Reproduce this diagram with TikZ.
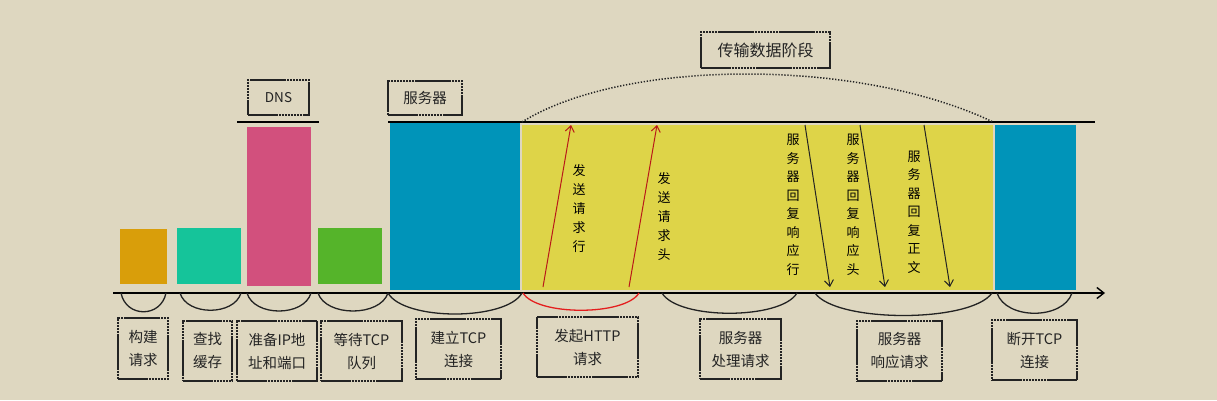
\documentclass[tikz,border=0pt]{standalone}
\usepackage{fontspec}
\newfontfamily\cjk{Noto Sans CJK SC}
\usetikzlibrary{arrows.meta}
\definecolor{bg}{RGB}{222,215,192}
\definecolor{cOrange}{RGB}{217,158,10}
\definecolor{cTeal}{RGB}{21,196,154}
\definecolor{cPink}{RGB}{210,80,125}
\definecolor{cGreen}{RGB}{85,180,42}
\definecolor{cBlue}{RGB}{0,148,185}
\definecolor{cYellow}{RGB}{222,212,72}
\definecolor{cInk}{RGB}{35,35,35}
\definecolor{cDarkRed}{RGB}{185,25,25}
\definecolor{cRed}{RGB}{228,30,30}
\begin{document}
\begin{tikzpicture}[x=1pt,y=-1pt,
  bar/.style={rectangle, inner sep=0pt, outer sep=0pt, anchor=north west},
  lbl/.style={draw=cInk, line width=1.2pt, dash pattern=on 2.6pt off 0.45pt, rectangle, inner sep=0pt,
              align=center, text=cInk, font=\cjk\fontsize{14.5}{23}\selectfont},
  vtxt/.style={align=center, text=black, inner sep=0pt, font=\cjk\fontsize{13}{18.5}\selectfont},
  brace/.style={line width=1.3pt, draw=cInk},
  upar/.style={line width=1pt, draw=cDarkRed, -{Straight Barb[length=6pt,width=9pt,line width=1pt]}},
  dnar/.style={line width=1pt, draw=cInk, -{Straight Barb[length=6pt,width=9pt,line width=1pt]}},
  rule/.style={line width=1.6pt, draw=black}
]
\useasboundingbox (0,0) rectangle (1217,400);
\fill[bg] (0,0) rectangle (1217,400);

% bars
\node[bar, fill=cOrange, minimum width=47pt, minimum height=55pt] (bOrange) at (120,229) {};
\node[bar, fill=cTeal, minimum width=64pt, minimum height=56pt] (bTeal) at (177,228) {};
\node[bar, fill=cPink, minimum width=64pt, minimum height=159pt] (bPink) at (247,127) {};
\node[bar, fill=cGreen, minimum width=64pt, minimum height=56pt] (bGreen) at (318,228) {};
\node[bar, fill=cBlue, minimum width=130pt, minimum height=167pt] (bBlue) at (390,123) {};
\node[bar, fill=cYellow, minimum width=471pt, minimum height=165pt] (bYellow) at (522,125) {};
\node[bar, fill=cBlue, minimum width=81pt, minimum height=165pt] (bBlue2) at (995,125) {};

% top rules
\coordinate (dnsL) at (237,122);
\coordinate (dnsR) at (319,122);
\coordinate (srvL) at (388,122);
\coordinate (srvR) at (1095,122);
\draw[rule] (dnsL) -- (dnsR);
\draw[rule] (srvL) -- (srvR);

% top labels
\node[lbl, font=\cjk\fontsize{13.5}{16}\selectfont, minimum width=61pt, minimum height=35pt] (dns) at (278.5,97.5) {DNS};
\node[lbl, minimum width=74pt, minimum height=34pt] (srv) at (425,98) {服务器};
\node[lbl, font=\cjk\fontsize{16}{20}\selectfont, minimum width=129pt, minimum height=36pt] (phase) at (765.5,50) {传输数据阶段};

% dotted arc
\coordinate (dotL) at (522,122);
\coordinate (dotR) at (993,122);
\draw[line width=1.5pt, dash pattern=on 1.3pt off 1.7pt, cInk] (dotL) .. controls (625,58) and (860,58) .. (dotR);

% axis
\coordinate (ax0) at (113,293);
\coordinate (ax1) at (1105,293);
\draw[line width=1.6pt, black, -{Straight Barb[length=7pt,width=11pt,line width=1.4pt]}] (ax0) -- (ax1);

% braces under the axis
\draw[brace] (121,293) .. controls (126,318) and (161,318) .. (166,293);
\draw[brace] (180,293) .. controls (187,316) and (234,316) .. (241,293);
\draw[brace] (247,293) .. controls (254,317) and (304,317) .. (311,293);
\draw[brace] (318,293) .. controls (326,317) and (380,317) .. (388,293);
\draw[brace] (388,293) .. controls (404,321) and (506,321) .. (522,293);
\draw[line width=1.3pt, cRed] (523,293) .. controls (537,316) and (625,316) .. (639,293);
\draw[brace] (662,293) .. controls (678,320) and (781,320) .. (797,293);
\draw[brace] (815,293) .. controls (836,323) and (971,323) .. (992,293);
\draw[brace] (997,293) .. controls (1006,320) and (1063,320) .. (1072,293);

% bottom labels
\node[lbl, minimum width=50pt, minimum height=61pt] (l1) at (143,348.5) {构建\\请求};
\node[lbl, minimum width=49pt, minimum height=60pt] (l2) at (207.5,351) {查找\\缓存};
\node[lbl, minimum width=80pt, minimum height=60pt] (l3) at (277,351) {准备IP地\\址和端口};
\node[lbl, minimum width=81pt, minimum height=60pt] (l4) at (361.5,351) {等待TCP\\队列};
\node[lbl, minimum width=85pt, minimum height=60pt] (l5) at (458.5,349) {建立TCP\\连接};
\node[lbl, minimum width=101pt, minimum height=60pt] (l6) at (587.5,347) {发起HTTP\\请求};
\node[lbl, minimum width=81pt, minimum height=60pt] (l7) at (740.5,349) {服务器\\处理请求};
\node[lbl, minimum width=85pt, minimum height=60pt] (l8) at (899.5,351) {服务器\\响应请求};
\node[lbl, minimum width=85pt, minimum height=60pt] (l9) at (1034.5,350) {断开TCP\\连接};

% request arrows (up)
\coordinate (u1s) at (543,287); \coordinate (u1e) at (571,125);
\coordinate (u2s) at (629,287); \coordinate (u2e) at (657,125);
\draw[upar] (u1s) -- (u1e);
\draw[upar] (u2s) -- (u2e);
\node[vtxt, font=\cjk\fontsize{13}{19}\selectfont] (t1) at (579,209) {发\\送\\请\\求\\行};
\node[vtxt, font=\cjk\fontsize{13}{19}\selectfont] (t2) at (664,216) {发\\送\\请\\求\\头};

% response arrows (down)
\coordinate (d1s) at (805,125); \coordinate (d1e) at (830,287);
\coordinate (d2s) at (860,125); \coordinate (d2e) at (885,287);
\coordinate (d3s) at (924,125); \coordinate (d3e) at (950,287);
\draw[dnar] (d1s) -- (d1e);
\draw[dnar] (d2s) -- (d2e);
\draw[dnar] (d3s) -- (d3e);
\node[vtxt] (t3) at (793,205) {服\\务\\器\\回\\复\\响\\应\\行};
\node[vtxt] (t4) at (853,205) {服\\务\\器\\回\\复\\响\\应\\头};
\node[vtxt] (t5) at (914,212) {服\\务\\器\\回\\复\\正\\文};
\end{tikzpicture}
\end{document}
